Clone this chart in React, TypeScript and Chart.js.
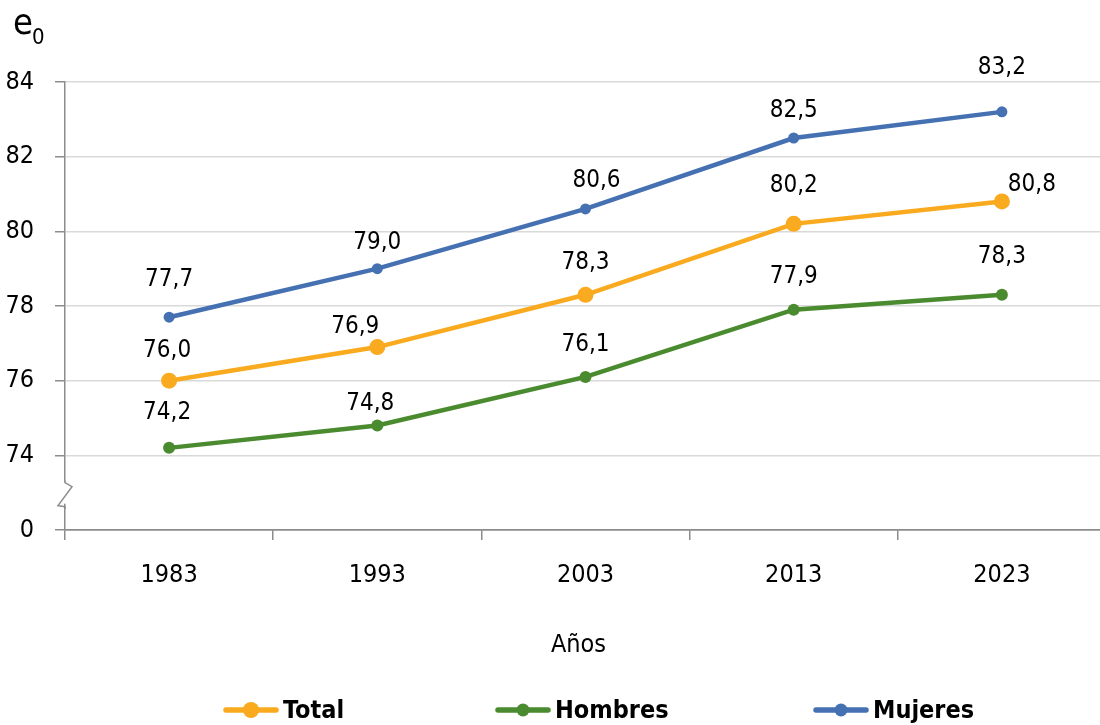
import React, { useEffect, useRef } from 'react';
import { Chart, registerables } from 'chart.js';

Chart.register(...registerables);

const FONT = "'Liberation Sans Narrow', 'DejaVu Sans Condensed', 'Arial Narrow', sans-serif";

const years = ['1983', '1993', '2003', '2013', '2023'];
const total = [76.0, 76.9, 78.3, 80.2, 80.8];
const hombres = [74.2, 74.8, 76.1, 77.9, 78.3];
const mujeres = [77.7, 79.0, 80.6, 82.5, 83.2];
const yTickValues = [72, 74, 76, 78, 80, 82, 84];
const yTickLabels = ['0', '74', '76', '78', '80', '82', '84'];
const seriesNames = ['Total', 'Hombres', 'Mujeres'];
const seriesColors = ['#F9AA1E', '#4B8B2F', '#4571B2'];
const xTitle = 'Años';

// label placement offsets (dx, dy) per series / point
const labelDx = [
  [-2, -22, 0, 0, 30],
  [-2, -7, 0, 0, 0],
  [0, 0, 11, 0, 0],
];
const labelDy = [
  [-30, -20, -32, -38, -17],
  [-35, -22, -32, -33, -38],
  [-37, -26, -28, -27, -44],
];
// legend item start x
const legendX = [223, 495, 813];

const fmt = (v: number) => v.toFixed(1).replace('.', ',');

const decor = {
  id: 'decor',
  afterDatasetsDraw(chart: any) {
    const ctx = chart.ctx;
    ctx.save();
    ctx.font = `24px ${FONT}`;
    ctx.fillStyle = '#000';
    ctx.textAlign = 'center';
    ctx.textBaseline = 'middle';
    chart.data.datasets.forEach((ds: any, i: number) => {
      const meta = chart.getDatasetMeta(i);
      meta.data.forEach((pt: any, j: number) => {
        ctx.fillText(fmt(ds.data[j]), pt.x + labelDx[i][j], pt.y + labelDy[i][j]);
      });
    });
    ctx.restore();
  },
  afterDraw(chart: any) {
    const ctx = chart.ctx;
    const ya = chart.scales.y;
    const area = chart.chartArea;
    const ax = ya.right;
    const yb = ya.getPixelForValue(73);
    ctx.save();
    // axis break
    ctx.fillStyle = '#fff';
    ctx.fillRect(ax - 4, yb - 11, 8, 22);
    ctx.strokeStyle = '#8c8c8c';
    ctx.lineWidth = 1.5;
    ctx.beginPath();
    ctx.moveTo(ax, yb - 12);
    ctx.lineTo(ax, yb - 10);
    ctx.lineTo(ax + 7, yb - 6);
    ctx.lineTo(ax - 7, yb + 13);
    ctx.lineTo(ax, yb + 14);
    ctx.lineTo(ax, yb + 16);
    ctx.stroke();

    // y title e0
    ctx.fillStyle = '#000';
    ctx.textAlign = 'left';
    ctx.textBaseline = 'alphabetic';
    ctx.font = `36px ${FONT}`;
    ctx.fillText('e', 13, 34);
    ctx.font = `22px ${FONT}`;
    ctx.fillText('0', 32, 44);

    // x title
    ctx.font = `25px ${FONT}`;
    ctx.textAlign = 'center';
    ctx.textBaseline = 'middle';
    ctx.fillText(xTitle, (area.left + area.right) / 2 - 7, 645);

    // legend
    ctx.font = `bold 25px ${FONT}`;
    const lineW = 56;
    const gapText = 4;
    const ly = 710;
    seriesNames.forEach((n, i) => {
      const x = legendX[i];
      ctx.strokeStyle = seriesColors[i];
      ctx.lineWidth = 5.5;
      ctx.lineCap = 'round';
      ctx.beginPath();
      ctx.moveTo(x + 3, ly);
      ctx.lineTo(x + lineW - 3, ly);
      ctx.stroke();
      ctx.fillStyle = seriesColors[i];
      ctx.beginPath();
      ctx.arc(x + lineW / 2, ly, i === 0 ? 8 : 6.5, 0, Math.PI * 2);
      ctx.fill();
      ctx.fillStyle = '#000';
      ctx.textAlign = 'left';
      ctx.fillText(n, x + lineW + gapText, ly + 1);
    });
    ctx.restore();
  },
};

export default function App() {
  const ref = useRef<HTMLCanvasElement | null>(null);
  useEffect(() => {
    if (!ref.current) return;
    Chart.defaults.font.family = FONT;
    const chart = new Chart(ref.current, {
      type: 'line',
      data: {
        labels: years,
        datasets: [
          { label: seriesNames[0], data: total, borderColor: seriesColors[0], backgroundColor: seriesColors[0], borderWidth: 4.5, pointRadius: 8, pointHoverRadius: 8, pointBorderWidth: 0, tension: 0 },
          { label: seriesNames[1], data: hombres, borderColor: seriesColors[1], backgroundColor: seriesColors[1], borderWidth: 4.5, pointRadius: 6, pointHoverRadius: 6, pointBorderWidth: 0, tension: 0 },
          { label: seriesNames[2], data: mujeres, borderColor: seriesColors[2], backgroundColor: seriesColors[2], borderWidth: 4.5, pointRadius: 5.5, pointHoverRadius: 5.5, pointBorderWidth: 0, tension: 0 },
        ],
      },
      options: {
        responsive: false,
        animation: false,
        layout: { autoPadding: false, padding: { top: 82, right: 2, left: 0, bottom: 0 } },
        plugins: { legend: { display: false }, tooltip: { enabled: false } },
        scales: {
          x: {
            type: 'category',
            offset: true,
            afterFit: (s: any) => { s.height = 195; },
            grid: { display: true, drawOnChartArea: false, drawTicks: true, tickLength: 10, tickColor: '#8c8c8c', offset: true, lineWidth: 1.5 },
            border: { display: true, color: '#8c8c8c', width: 1.5 },
            ticks: { color: '#000', font: { size: 25, family: FONT }, padding: 20, maxRotation: 0 },
          },
          y: {
            min: 72,
            max: 84,
            afterFit: (s: any) => { s.width = 65; },
            afterBuildTicks: (s: any) => { s.ticks = yTickValues.map((v) => ({ value: v })); },
            grid: {
              color: (c: any) => (c.tick && c.tick.value === 72 ? '#8c8c8c' : '#d9d9d9'),
              lineWidth: 1.5,
              tickLength: 10,
              tickColor: '#8c8c8c',
            },
            border: { display: true, color: '#8c8c8c', width: 1.5 },
            ticks: {
              color: '#000',
              font: { size: 25, family: FONT },
              padding: 21,
              callback: (v: any) => yTickLabels[yTickValues.indexOf(Number(v))] ?? '',
            },
          },
        },
      },
      plugins: [decor],
    });
    return () => chart.destroy();
  }, []);
  return (
    <div style={{ position: 'absolute', left: 0, top: 0, width: 1100, height: 725, overflow: 'hidden', background: '#fff' }}>
      <div style={{ width: 1108, height: 725 }}>
        <canvas ref={ref} width={1108} height={725} style={{ display: 'block', width: 1108, height: 725 }} />
      </div>
    </div>
  );
}
